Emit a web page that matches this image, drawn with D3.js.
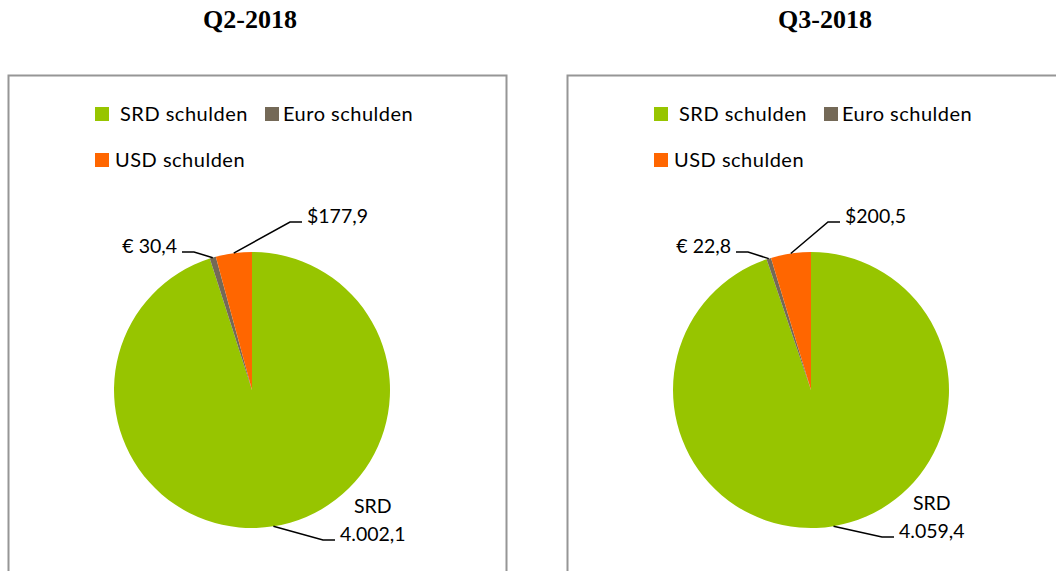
<!DOCTYPE html>
<html>
<head>
<meta charset="utf-8">
<script src="https://cdn.jsdelivr.net/npm/d3@7"></script>
<style>
  body { margin: 0; background: #fff; }
  svg { display: block; }
  .title { font-family: "Liberation Serif", "Times New Roman", serif; font-weight: bold; font-size: 26px; }
  .lbl, .legend text { font-family: Lato, "Open Sans", sans-serif; fill: #000; }
  .lbl { font-size: 19.5px; }
  .legend text { font-size: 20px; letter-spacing: 0.5px; }
</style>
</head>
<body>
<svg id="chart" width="1056" height="571"></svg>
<script>
// quarters shown, one pie each
var quarters = ["Q2-2018", "Q3-2018"];
var categories = ["SRD schulden", "Euro schulden", "USD schulden"];
var srdValues = [4002.1, 4059.4];
var euroValues = [30.4, 22.8];
var usdValues = [177.9, 200.5];
var colors = ["#97c500", "#746957", "#ff6600"];

var nl = d3.formatLocale({ decimal: ",", thousands: ".", grouping: [3], currency: ["", ""] });
var fmt = nl.format(",.1f");

var svg = d3.select("#chart");
var radius = 138;
var centers = [[252, 390], [811, 390]];
// label anchors relative to pie centre (baseline points)
var labelPos = [
  { usd: [55, -167], euro: [-75, -137], srd: [88, 151] },
  { usd: [34, -167], euro: [-80, -137], srd: [88, 148] }
];

var pie = d3.pie().sort(null).value(function (d) { return d; });
var arc = d3.arc().innerRadius(0).outerRadius(radius);
var edge = d3.arc().innerRadius(radius).outerRadius(radius);

quarters.forEach(function (q, i) {
  var cx = centers[i][0], cy = centers[i][1];
  var vals = [srdValues[i], euroValues[i], usdValues[i]];

  svg.append("text").attr("class", "title")
    .attr("x", i == 0 ? 250 : 825).attr("y", 28)
    .attr("text-anchor", "middle").text(q);

  // chart frame (bottom runs off the page)
  var bx0 = cx - 244, bx1 = i == 0 ? cx + 254 : 1070;
  svg.append("path")
    .attr("d", "M" + (bx0 + 0.5) + ",600V75.5H" + (bx1 + 0.5) + "V600")
    .attr("fill", "none").attr("stroke", "#969696").attr("stroke-width", 2);

  var g = svg.append("g").attr("transform", "translate(" + cx + "," + cy + ")");

  // legend
  var leg = g.append("g").attr("class", "legend");
  var legItems = [
    { sx: -157, tx: -132, y: -283 },
    { sx: 13, tx: 31, y: -283 },
    { sx: -157, tx: -137, y: -237 }
  ];
  legItems.forEach(function (it, k) {
    leg.append("rect").attr("x", it.sx).attr("y", it.y).attr("width", 14).attr("height", 14)
      .attr("fill", colors[k]);
    leg.append("text").attr("x", it.tx).attr("y", it.y + 14).text(categories[k]);
  });

  var arcs = pie(vals);
  g.selectAll("path.slice").data(arcs).enter().append("path")
    .attr("class", "slice")
    .attr("d", arc)
    .attr("fill", function (d, k) { return colors[k]; });

  // leader lines + labels
  var lp = labelPos[i];
  var specs = [
    { key: "srd", side: 1, text: ["SRD", fmt(vals[0])] },
    { key: "euro", side: -1, text: ["\u20ac " + fmt(vals[1])] },
    { key: "usd", side: 1, text: ["$" + fmt(vals[2])] }
  ];
  specs.forEach(function (s, k) {
    var p = edge.centroid(arcs[k]);
    var a = lp[s.key];
    var x1 = a[0] - s.side * 5, x2 = x1 - s.side * 12, ly = a[1] - 1;
    g.append("path")
      .attr("d", "M" + p[0] + "," + p[1] + "L" + x2 + "," + ly + "L" + x1 + "," + ly)
      .attr("fill", "none").attr("stroke", "#000").attr("stroke-width", 1.5);
    if (s.text.length == 2) {
      var t = g.append("text").attr("class", "lbl").attr("x", a[0]).attr("y", a[1]).text(s.text[1]);
      // centre "SRD" over the value
      var bb = t.node().getBBox();
      g.append("text").attr("class", "lbl").attr("x", bb.x + bb.width / 2).attr("y", a[1] - 28)
        .attr("text-anchor", "middle").text(s.text[0]);
    } else {
      g.append("text").attr("class", "lbl").attr("x", a[0]).attr("y", a[1])
        .attr("text-anchor", s.side == 1 ? "start" : "end").text(s.text[0]);
    }
  });
});
</script>
</body>
</html>
